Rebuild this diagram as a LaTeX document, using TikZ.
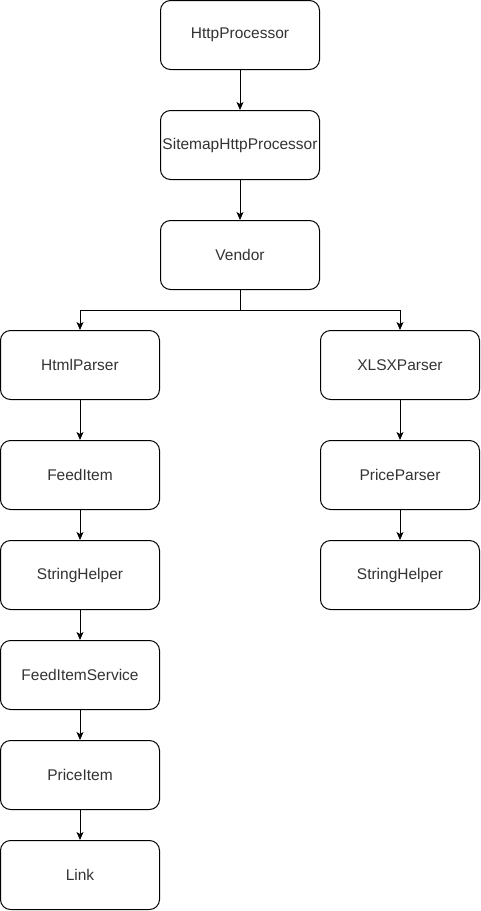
\documentclass[tikz,border=0pt]{standalone}
\usepackage{fontspec}
\setmainfont{Liberation Sans}
\usetikzlibrary{arrows.meta}
\begin{document}
\begin{tikzpicture}[x=1pt,y=-1pt,
  box/.style={draw=black,line width=1pt,rounded corners=10pt,minimum width=159pt,minimum height=69pt,inner sep=0pt,font=\fontsize{15.5}{18}\selectfont,text=black!80,fill=white},
  conn/.style={draw=black,line width=1pt,-{Stealth[length=8pt,width=7pt,inset=2pt]}}]
\useasboundingbox (0,0) rectangle (481,911);
\node[box] (hp) at (240,35) {HttpProcessor};
\node[box] (shp) at (240,145) {SitemapHttpProcessor};
\node[box] (v) at (240,255) {Vendor};
\node[box] (html) at (80,365) {HtmlParser};
\node[box] (xlsx) at (400,365) {XLSXParser};
\node[box] (fi) at (80,475) {FeedItem};
\node[box] (sh1) at (80,575) {StringHelper};
\node[box] (fis) at (80,675) {FeedItemService};
\node[box] (pi) at (80,775) {PriceItem};
\node[box] (link) at (80,875) {Link};
\node[box] (pp) at (400,475) {PriceParser};
\node[box] (sh2) at (400,575) {StringHelper};
\draw[conn] (hp) -- (shp);
\draw[conn] (shp) -- (v);
\draw[conn] (v.south) -- ++(0,20) -| (html.north);
\draw[conn] (v.south) -- ++(0,20) -| (xlsx.north);
\draw[conn] (html) -- (fi);
\draw[conn] (fi) -- (sh1);
\draw[conn] (sh1) -- (fis);
\draw[conn] (fis) -- (pi);
\draw[conn] (pi) -- (link);
\draw[conn] (xlsx) -- (pp);
\draw[conn] (pp) -- (sh2);
\end{tikzpicture}
\end{document}
